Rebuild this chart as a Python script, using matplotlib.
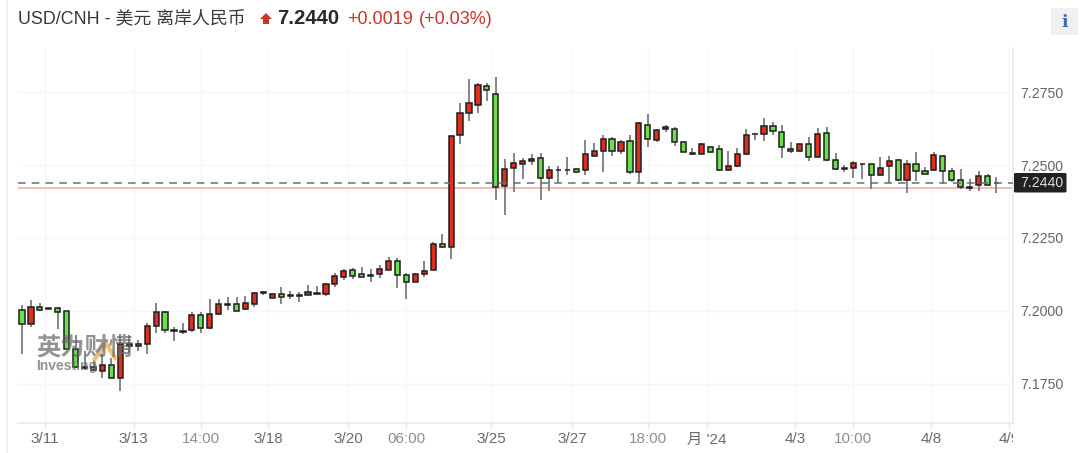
import matplotlib
matplotlib.use('Agg')
import matplotlib.pyplot as plt
from matplotlib.lines import Line2D
from matplotlib.patches import Rectangle, Polygon, FancyBboxPatch
from matplotlib.transforms import Bbox, TransformedBbox

plt.rcParams['font.family'] = ['Liberation Sans', 'Noto Sans CJK SC', 'DejaVu Sans']

opens = [7.2002, 7.1954, 7.2012, 7.2009, 7.2009, 7.1999, 7.1869, 7.1807, 7.1807, 7.1794,
         7.1814, 7.1770, 7.1885, 7.1885, 7.1888, 7.1950, 7.1998, 7.1936, 7.1931, 7.1935,
         7.1986, 7.1942, 7.1990, 7.2025, 7.2025, 7.2006, 7.2025, 7.2064, 7.2044, 7.2059,
         7.2053, 7.2053, 7.2055, 7.2063, 7.2059, 7.2091, 7.2117, 7.2139, 7.2126, 7.2122,
         7.2125, 7.2141, 7.2172, 7.2123, 7.2099, 7.2125, 7.2140, 7.2229, 7.2220, 7.2603,
         7.2677, 7.2704, 7.2772, 7.2745, 7.2427, 7.2489, 7.2505, 7.2513, 7.2525, 7.2454,
         7.2483, 7.2483, 7.2485, 7.2482, 7.2531, 7.2548, 7.2588, 7.2548, 7.2583, 7.2477,
         7.2638, 7.2587, 7.2622, 7.2623, 7.2580, 7.2541, 7.2539, 7.2563, 7.2554, 7.2482,
         7.2497, 7.2537, 7.2607, 7.2607, 7.2635, 7.2614, 7.2556, 7.2547, 7.2572, 7.2529,
         7.2611, 7.2517, 7.2489, 7.2490, 7.2503, 7.2502, 7.2465, 7.2498, 7.2517, 7.2448,
         7.2502, 7.2478, 7.2482, 7.2532, 7.2478, 7.2448, 7.2424, 7.2431, 7.2461, 7.2440]
highs = [7.2020, 7.2038, 7.2028, 7.2009, 7.2012, 7.2001, 7.1918, 7.1861, 7.1832, 7.1853,
         7.1838, 7.1921, 7.1918, 7.1901, 7.1960, 7.2026, 7.2000, 7.1946, 7.1960, 7.1998,
         7.1995, 7.2041, 7.2040, 7.2049, 7.2049, 7.2052, 7.2064, 7.2069, 7.2063, 7.2081,
         7.2068, 7.2064, 7.2089, 7.2085, 7.2097, 7.2131, 7.2142, 7.2146, 7.2149, 7.2142,
         7.2159, 7.2186, 7.2180, 7.2129, 7.2129, 7.2171, 7.2235, 7.2263, 7.2603, 7.2714,
         7.2795, 7.2782, 7.2782, 7.2803, 7.2522, 7.2540, 7.2523, 7.2538, 7.2540, 7.2498,
         7.2495, 7.2529, 7.2491, 7.2586, 7.2577, 7.2603, 7.2595, 7.2586, 7.2603, 7.2648,
         7.2675, 7.2625, 7.2637, 7.2631, 7.2583, 7.2560, 7.2574, 7.2565, 7.2569, 7.2549,
         7.2557, 7.2623, 7.2611, 7.2662, 7.2646, 7.2637, 7.2578, 7.2574, 7.2597, 7.2628,
         7.2631, 7.2542, 7.2500, 7.2514, 7.2504, 7.2504, 7.2526, 7.2531, 7.2522, 7.2517,
         7.2546, 7.2494, 7.2545, 7.2533, 7.2490, 7.2486, 7.2451, 7.2480, 7.2469, 7.2460]
lows = [7.1853, 7.1946, 7.2001, 7.2008, 7.1937, 7.1870, 7.1803, 7.1798, 7.1795, 7.1769,
        7.1769, 7.1724, 7.1855, 7.1864, 7.1853, 7.1923, 7.1923, 7.1898, 7.1921, 7.1927,
        7.1923, 7.1939, 7.1986, 7.2003, 7.1999, 7.2003, 7.2012, 7.2053, 7.2043, 7.2024,
        7.2040, 7.2032, 7.2053, 7.2059, 7.2051, 7.2083, 7.2106, 7.2108, 7.2116, 7.2100,
        7.2114, 7.2139, 7.2077, 7.2040, 7.2098, 7.2117, 7.2139, 7.2214, 7.2179, 7.2571,
        7.2652, 7.2677, 7.2719, 7.2380, 7.2329, 7.2407, 7.2452, 7.2500, 7.2379, 7.2411,
        7.2440, 7.2465, 7.2474, 7.2465, 7.2529, 7.2477, 7.2531, 7.2537, 7.2469, 7.2440,
        7.2563, 7.2579, 7.2613, 7.2566, 7.2544, 7.2534, 7.2538, 7.2541, 7.2480, 7.2480,
        7.2494, 7.2536, 7.2586, 7.2582, 7.2602, 7.2523, 7.2540, 7.2544, 7.2515, 7.2528,
        7.2515, 7.2482, 7.2477, 7.2457, 7.2453, 7.2419, 7.2462, 7.2440, 7.2446, 7.2403,
        7.2446, 7.2469, 7.2481, 7.2435, 7.2443, 7.2418, 7.2412, 7.2411, 7.2427, 7.2403]
closes = [7.1954, 7.2012, 7.2004, 7.2008, 7.1998, 7.1870, 7.1807, 7.1806, 7.1798, 7.1814,
          7.1770, 7.1885, 7.1881, 7.1881, 7.1947, 7.1998, 7.1935, 7.1931, 7.1928, 7.1986,
          7.1942, 7.1990, 7.2025, 7.2022, 7.2001, 7.2028, 7.2060, 7.2063, 7.2059, 7.2048,
          7.2052, 7.2052, 7.2064, 7.2059, 7.2091, 7.2118, 7.2138, 7.2121, 7.2117, 7.2118,
          7.2142, 7.2172, 7.2122, 7.2099, 7.2126, 7.2138, 7.2228, 7.2220, 7.2600, 7.2677,
          7.2712, 7.2774, 7.2758, 7.2423, 7.2485, 7.2506, 7.2514, 7.2522, 7.2454, 7.2482,
          7.2482, 7.2482, 7.2477, 7.2537, 7.2549, 7.2588, 7.2548, 7.2580, 7.2477, 7.2643,
          7.2588, 7.2619, 7.2630, 7.2580, 7.2544, 7.2539, 7.2571, 7.2544, 7.2482, 7.2498,
          7.2537, 7.2603, 7.2606, 7.2635, 7.2615, 7.2561, 7.2547, 7.2572, 7.2528, 7.2607,
          7.2517, 7.2485, 7.2488, 7.2506, 7.2502, 7.2466, 7.2489, 7.2513, 7.2448, 7.2502,
          7.2480, 7.2470, 7.2533, 7.2480, 7.2448, 7.2424, 7.2420, 7.2461, 7.2433, 7.2439]

y_ticks = [7.1750, 7.2000, 7.2250, 7.2500, 7.2750]
x_tick_pos = [2.57, 12.5, 20, 27.5, 36.5, 43, 52.5, 61.5, 70, 76.6, 86.5, 93, 101.7, 110.4]
x_tick_labels = ['3/11', '3/13', '14:00', '3/18', '3/20', '06:00', '3/25', '3/27',
                 '18:00', "月 '24", '4/3', '10:00', '4/8', '4/9']
last_price = 7.2440
prev_close = 7.2421

W, H = 1080, 453
fig = plt.figure(figsize=(W / 100, H / 100), dpi=100, facecolor='white')
ax = fig.add_axes([18 / W, (H - 422.7) / H, 995 / W, 374.7 / H])
ax.set_xlim(-0.447, 110.85)
ax.set_ylim(7.1617, 7.2901)

# candles
for i in range(len(opens)):
    up = closes[i] >= opens[i]
    color = '#e02d1d' if up else '#6be04d'
    ax.vlines(i, lows[i], highs[i], color='#74787a', lw=1.25, zorder=3)
    bottom = min(opens[i], closes[i])
    height = abs(closes[i] - opens[i])
    ax.add_patch(Rectangle((i - 0.29, bottom), 0.58, height, facecolor=color,
                           edgecolor='#1e1e1e', lw=1.1, zorder=4))

ax.axhline(prev_close, color='#f4a8a8', lw=1.1, zorder=2)
ax.axhline(last_price, color='#6e6e6e', lw=1.1, dashes=(5, 4), zorder=5)

ax.set_xticks(x_tick_pos)
ax.set_xticklabels(x_tick_labels)
ax.set_yticks(y_ticks)
ax.set_yticklabels(['%.4f' % v for v in y_ticks])
ax.yaxis.tick_right()
ax.grid(True, color='#f6f7f9', lw=1.0)
ax.set_axisbelow(True)
ax.tick_params(axis='x', length=4, color='#e6e9f0', labelsize=11, labelcolor='#6b6b6b', pad=3)
ax.tick_params(axis='y', length=0, labelsize=10.2, labelcolor='#666666', pad=5)
for s in ['top', 'left']:
    ax.spines[s].set_visible(False)
for s in ['bottom', 'right']:
    ax.spines[s].set_color('#e6e9f0')
    ax.spines[s].set_linewidth(1.2)

# time labels are lighter than the date labels, the last one is cut at the axis edge
for lab in ax.get_xticklabels():
    if ':' in lab.get_text():
        lab.set_color('#8f8f8f')
last_lab = ax.get_xticklabels()[-1]
last_lab.set_clip_box(TransformedBbox(Bbox([[0, 0], [1013 / W, 1]]), fig.transFigure))
last_lab.set_clip_on(True)

# last price tag
fig.add_artist(FancyBboxPatch((1014 / W, 1 - 192.5 / H), 52.5 / W, 19.5 / H,
                              boxstyle='round,pad=0,rounding_size=0.002', fc='#222222', ec='none',
                              zorder=8))
fig.text(1020 / W, 1 - 183 / H, '7.2440', color='#dcdcdc', fontsize=10.2, va='center', zorder=9)

# outer frame line on the left
fig.add_artist(Line2D([7 / W, 7 / W], [0, 1], color='#eceef1', lw=1.2))

# header
fig.text(18 / W, 1 - 19 / H, 'USD/CNH - 美元 离岸人民币', fontsize=12.9, color='#3a3a3a', va='center')
fig.add_artist(Polygon([[260 / W, 1 - 19 / H], [266 / W, 1 - 13 / H], [272 / W, 1 - 19 / H],
                        [269 / W, 1 - 19 / H], [269 / W, 1 - 24 / H], [263 / W, 1 - 24 / H],
                        [263 / W, 1 - 19 / H]], closed=True, fc='#c8352b', ec='none'))
fig.text(277 / W, 1 - 19 / H, '7.2440', fontsize=14.7, fontweight='bold', color='#2a2a2a', va='center')
fig.text(347 / W, 1 - 19 / H, '+0.0019', fontsize=13, color='#c8352b', va='center')
fig.text(419 / W, 1 - 19 / H, '(+0.03%)', fontsize=13, color='#c8352b', va='center')

# info button
fig.add_artist(Rectangle((1051 / W, 1 - 35 / H), 27 / W, 27 / H, fc='#f0f0f2', ec='none'))
fig.text(1064.5 / W, 1 - 22.5 / H, 'i', fontsize=12.5, fontweight='bold', family='DejaVu Serif',
         color='#3a6cb0', ha='center', va='center')

# watermark
fig.text(36 / W, 1 - 349 / H, '英为财情', fontsize=17.5, fontweight='bold', color='#666666',
         alpha=0.7, va='center', zorder=10)
fig.text(36 / W, 1 - 366 / H, 'Investing', fontsize=10, fontweight='bold', color='#666666',
         alpha=0.7, va='center', zorder=10)
fig.add_artist(Line2D([95 / W, 106 / W, 115 / W], [1 - 359 / H, 1 - 343 / H, 1 - 358 / H],
                      color='#f0b45a', lw=3, alpha=0.85))

fig.savefig('out.png', dpi=100)
